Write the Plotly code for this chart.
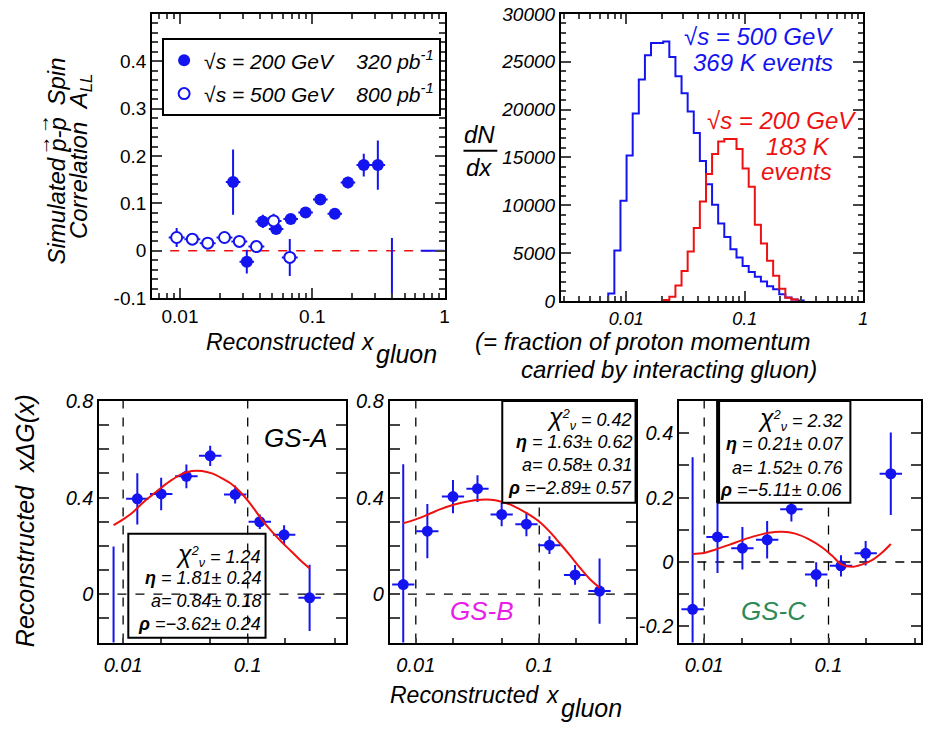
import plotly.graph_objects as go
import numpy as np

# ---------------- DATA ----------------
# Top-left: simulated A_LL vs reconstructed x_gluon
x_200 = [0.0252, 0.032, 0.0423, 0.0533, 0.0687, 0.089, 0.115, 0.148, 0.186, 0.245, 0.313, 0.40]
y_200 = [0.145, -0.023, 0.062, 0.046, 0.067, 0.081, 0.108, 0.078, 0.144, 0.181, 0.181, -0.20]
e_200 = [0.069, 0.025, 0.014, 0.010, 0.010, 0.008, 0.008, 0.008, 0.012, 0.024, 0.052, 0.227]
x_500 = [0.00944, 0.0124, 0.0162, 0.0217, 0.0281, 0.0378, 0.051, 0.0676]
y_500 = [0.028, 0.0245, 0.016, 0.028, 0.0197, 0.0088, 0.063, -0.014]
e_500 = [0.020, 0.010, 0.008, 0.008, 0.008, 0.008, 0.015, 0.039]
last_bin_x = [0.81]
last_bin_y = [0.0]
last_bin_xerr_plus = [0.19]
last_bin_xerr_minus = [0.15]

# Top-right: dN/dx histograms (log-spaced bin edges)
hist_edges = [0.00706, 0.00795, 0.00895, 0.01008, 0.01135, 0.01278, 0.01439, 0.01620, 0.01824,
              0.02054, 0.02312, 0.02603, 0.02931, 0.03300, 0.03715, 0.04183, 0.04710, 0.05302,
              0.05970, 0.06722, 0.07568, 0.08521, 0.09594, 0.1080, 0.1216, 0.1369, 0.1542,
              0.1736, 0.1954, 0.2200, 0.2477, 0.2789, 0.3141]
counts_500 = [800, 5270, 10470, 15200, 19600, 23140, 25680, 26960, 26960, 27130, 25500, 23480,
              21720, 19800, 17570, 14630, 12200, 10070, 8110, 6690, 5400, 4560, 3650, 3040,
              2530, 2030, 1550, 1220, 710, 370, 170, 70]
red_first_bin = 9
counts_200 = [100, 440, 1620, 3140, 5170, 7640, 10400, 13280, 15370, 16660, 16930, 16930,
              15880, 13850, 11930, 7970, 6010, 4220, 2640, 1280, 340, 170]
hist_yticks = [0, 5000, 10000, 15000, 20000, 25000, 30000]

# Bottom: reconstructed x*DeltaG(x)
xA = [0.00838, 0.0130, 0.0202, 0.0322, 0.050, 0.0793, 0.125, 0.196, 0.314]
yA = [-0.25, 0.395, 0.415, 0.488, 0.573, 0.413, 0.300, 0.246, -0.015]
eA = [0.447, 0.106, 0.067, 0.049, 0.042, 0.037, 0.030, 0.040, 0.137]
fitA_log10x = [-2.077, -2.0, -1.926, -1.846, -1.766, -1.686, -1.606, -1.527, -1.447, -1.367, -1.287,
               -1.207, -1.128, -1.048, -0.968, -0.888, -0.809, -0.729, -0.649, -0.569, -0.503]
fitA_y = [0.286, 0.31, 0.337, 0.377, 0.411, 0.444, 0.474, 0.498, 0.51, 0.51, 0.50,
          0.48, 0.455, 0.417, 0.367, 0.31, 0.261, 0.217, 0.177, 0.136, 0.107]

xB = [0.00791, 0.0124, 0.020, 0.0316, 0.0496, 0.0787, 0.121, 0.195, 0.308]
yB = [0.040, 0.261, 0.404, 0.437, 0.330, 0.290, 0.203, 0.080, 0.013]
eB = [0.498, 0.112, 0.069, 0.055, 0.049, 0.050, 0.037, 0.041, 0.135]
fitB_log10x = [-2.102, -2.0, -1.901, -1.794, -1.687, -1.580, -1.473, -1.393, -1.313, -1.233,
               -1.152, -1.072, -0.992, -0.912, -0.832, -0.751, -0.671, -0.591, -0.511]
fitB_y = [0.294, 0.310, 0.330, 0.353, 0.371, 0.384, 0.391, 0.391, 0.384, 0.371,
          0.350, 0.326, 0.297, 0.257, 0.210, 0.161, 0.110, 0.063, 0.027]

xC = [0.00807, 0.0128, 0.0203, 0.0321, 0.0503, 0.0796, 0.126, 0.199, 0.317]
yC = [-0.147, 0.078, 0.043, 0.069, 0.164, -0.039, -0.012, 0.027, 0.274]
eC = [0.472, 0.112, 0.066, 0.058, 0.038, 0.038, 0.033, 0.038, 0.128]
fitC_log10x = [-2.093, -2.0, -1.907, -1.8, -1.693, -1.587, -1.48, -1.373, -1.267, -1.16,
               -1.053, -0.973, -0.893, -0.813, -0.733, -0.653, -0.573, -0.499]
fitC_y = [0.025, 0.028, 0.039, 0.053, 0.068, 0.081, 0.091, 0.094, 0.088, 0.071,
          0.046, 0.020, -0.008, -0.015, -0.008, 0.005, 0.028, 0.056]

fit_texts = {
    "A": ["1.24", "1.81\u00b1 0.24", "0.84\u00b1 0.18", "\u22123.62\u00b1 0.24"],
    "B": ["0.42", "1.63\u00b1 0.62", "0.58\u00b1 0.31", "\u22122.89\u00b1 0.57"],
    "C": ["2.32", "0.21\u00b1 0.07", "1.52\u00b1 0.76", "\u22125.11\u00b1 0.06"],
}
panel_names = ["GS-A", "GS-B", "GS-C"]

# ---------------- STYLE ----------------
W, H = 926, 735
BLUE = "#1414f0"
RED = "#ee1111"
FONT = "Liberation Sans, Arial, sans-serif"
NB = "\u00a0"


def px(x):
    return x / W


def py(y):
    return 1 - y / H


def xerr(xs, hw):
    xs = np.asarray(xs)
    return list(xs * (10 ** hw - 1)), list(xs * (1 - 10 ** -hw))


fig = go.Figure()

# ---- panel 1 ----
p200, m200 = xerr(x_200, 0.055)
fig.add_trace(go.Scatter(
    x=x_200, y=y_200, mode="markers", xaxis="x", yaxis="y", legendgroup="g200",
    name="\u221as" + NB + "=" + NB + "200" + NB + "GeV" + NB * 4 + "320" + NB + "pb<sup>-1</sup>",
    marker=dict(color=BLUE, size=12),
    error_y=dict(type="data", array=e_200, width=0, thickness=2, color=BLUE),
    error_x=dict(type="data", array=p200, arrayminus=m200, symmetric=False, width=0, thickness=2, color=BLUE),
))
p500, m500 = xerr(x_500, 0.06)
fig.add_trace(go.Scatter(
    x=x_500, y=y_500, mode="markers", xaxis="x", yaxis="y", legendgroup="g500",
    name="\u221as" + NB + "=" + NB + "500" + NB + "GeV" + NB * 4 + "800" + NB + "pb<sup>-1</sup>",
    marker=dict(color="white", size=11, line=dict(color=BLUE, width=2)),
    error_y=dict(type="data", array=e_500, width=0, thickness=2, color=BLUE),
    error_x=dict(type="data", array=p500, arrayminus=m500, symmetric=False, width=0, thickness=2, color=BLUE),
))
fig.add_trace(go.Scatter(
    x=last_bin_x, y=last_bin_y, mode="markers", xaxis="x", yaxis="y", showlegend=False,
    marker=dict(color=BLUE, size=1, opacity=0),
    error_x=dict(type="data", array=last_bin_xerr_plus, arrayminus=last_bin_xerr_minus,
                 symmetric=False, width=0, thickness=2, color=BLUE),
))

# ---- panel 2 ----
fig.add_trace(go.Scatter(x=hist_edges + [hist_edges[-1]], y=[0] + counts_500 + [0],
                         mode="lines", line=dict(color=BLUE, width=2, shape="vh"),
                         xaxis="x2", yaxis="y2", showlegend=False))
red_edges = hist_edges[red_first_bin:red_first_bin + len(counts_200) + 1]
fig.add_trace(go.Scatter(x=red_edges + [red_edges[-1]], y=[0] + counts_200 + [0],
                         mode="lines", line=dict(color=RED, width=2, shape="vh"),
                         xaxis="x2", yaxis="y2", showlegend=False))

# ---- bottom panels ----
bottom = [("x3", "y3", xA, yA, eA, fitA_log10x, fitA_y),
          ("x4", "y4", xB, yB, eB, fitB_log10x, fitB_y),
          ("x5", "y5", xC, yC, eC, fitC_log10x, fitC_y)]
for xa, ya, xs, ys, es, flx, fy in bottom:
    pp, mm = xerr(xs, 0.09)
    fig.add_trace(go.Scatter(
        x=xs, y=ys, mode="markers", xaxis=xa, yaxis=ya, showlegend=False,
        marker=dict(color=BLUE, size=11),
        error_y=dict(type="data", array=es, width=0, thickness=2, color=BLUE),
        error_x=dict(type="data", array=pp, arrayminus=mm, symmetric=False, width=0, thickness=2, color=BLUE),
    ))
    fig.add_trace(go.Scatter(x=[10 ** v for v in flx], y=fy, mode="lines", xaxis=xa, yaxis=ya,
                             showlegend=False, line=dict(color=RED, width=2, shape="spline")))

# ---------------- AXES ----------------
axline = dict(showline=True, linecolor="black", linewidth=2, showgrid=False, zeroline=False)


def logminor(lo_dec, hi_dec):
    vals = []
    for d in range(lo_dec, hi_dec):
        for k in range(2, 10):
            vals.append(k * 10.0 ** d)
    return vals


tick_norm = dict(family=FONT, size=19, color="black")
tick_ital = dict(family=FONT, size=18, color="black", style="italic")
tick_ital_b = dict(family=FONT, size=20, color="black", style="italic")

layout = dict(
    width=W, height=H, margin=dict(l=0, r=0, t=0, b=0),
    paper_bgcolor="white", plot_bgcolor="white",
    font=dict(family=FONT, color="black"),
    xaxis=dict(domain=[px(153), px(447)], anchor="y", type="log", range=[-2.21, 0],
               tickvals=[0.01, 0.1, 1], ticktext=["0.01", "0.1", "1"], ticks="inside", ticklen=10,
               tickwidth=1.5, mirror="allticks", tickfont=tick_norm,
               minor=dict(tickvals=logminor(-3, 0), ticks="inside", ticklen=5, tickwidth=1.5),
               **axline),
    yaxis=dict(domain=[py(296), py(3)], anchor="x", range=[-0.1, 0.5],
               tickvals=[-0.1, 0, 0.1, 0.2, 0.3, 0.4], ticktext=["-0.1", "0", "0.1", "0.2", "0.3", "0.4"],
               ticks="inside", ticklen=10, tickwidth=1.5, mirror="allticks", tickfont=tick_norm,
               minor=dict(dtick=0.02, ticks="inside", ticklen=6, tickwidth=1.5), **axline),
    xaxis2=dict(domain=[px(564), px(868)], anchor="y2", type="log", range=[-2.55, 0],
                tickvals=[0.01, 0.1, 1], ticktext=["0.01", "0.1", "1"], ticks="inside", ticklen=10,
                tickwidth=1.5, mirror="allticks", tickfont=tick_ital,
                minor=dict(tickvals=logminor(-3, 0), ticks="inside", ticklen=5, tickwidth=1.5),
                **axline),
    yaxis2=dict(domain=[py(299), py(3)], anchor="x2", range=[0, 30000],
                tickvals=hist_yticks, ticktext=[str(v) for v in hist_yticks],
                ticks="inside", ticklen=10, tickwidth=1.5, mirror="allticks",
                tickfont=dict(family=FONT, size=19, color="black", style="italic"),
                minor=dict(dtick=1000, ticks="inside", ticklen=5, tickwidth=1.5), **axline),
    legend=dict(x=px(163), y=py(28), xanchor="left", yanchor="top", bordercolor="black",
                borderwidth=2, bgcolor="white", font=dict(family=FONT, size=21, style="italic"),
                tracegroupgap=3),
    showlegend=True,
)

bx_dom = {"3": [100, 348], "4": [392, 639], "5": [683, 926]}
bx_rng = {"3": [-2.19, -0.21], "4": [-2.21, -0.22], "5": [-2.2, -0.256]}
by_rng = {"3": [-0.2, 0.8], "4": [-0.2, 0.8], "5": [-0.25, 0.5]}
by_ticks = {"3": [0, 0.4, 0.8], "4": [0, 0.4, 0.8], "5": [-0.2, 0, 0.2, 0.4]}
by_text = {"3": ["0", "0.4", "0.8"], "4": ["0", "0.4", "0.8"], "5": ["-0.2", "0", "0.2", "0.4"]}
for k in ["3", "4", "5"]:
    layout["xaxis" + k] = dict(domain=[px(bx_dom[k][0]), min(1.0, px(bx_dom[k][1]))], anchor="y" + k,
                               type="log", range=bx_rng[k],
                               tickvals=[0.01, 0.02, 0.05, 0.1, 0.2, 0.5],
                               ticktext=["0.01", "", "", "0.1", "", ""], ticks="inside", ticklen=5,
                               tickwidth=1.5, mirror=True, tickfont=tick_ital_b, ticklabelstandoff=3,
                               **axline)
    layout["yaxis" + k] = dict(domain=[py(651), py(402)], anchor="x" + k, range=by_rng[k],
                               tickvals=by_ticks[k], ticktext=by_text[k], ticks="inside", ticklen=10,
                               tickwidth=1.5, mirror="allticks", tickfont=tick_ital_b,
                               minor=dict(dtick=0.1, ticks="inside", ticklen=10, tickwidth=1.5),
                               **axline)

fig.update_layout(**layout)

# ---------------- SHAPES ----------------
shapes = []
shapes.append(dict(type="line", xref="x domain", yref="y", x0=0, x1=1, y0=0, y1=0, layer="below",
                   line=dict(color=RED, width=1.5, dash="dash")))
for k in ["3", "4", "5"]:
    shapes.append(dict(type="line", xref="x%s domain" % k, yref="y" + k, x0=0, x1=1, y0=0, y1=0,
                       layer="below", line=dict(color="black", width=1.3, dash="dash")))
    for xv in (0.01, 0.1):
        shapes.append(dict(type="line", xref="x" + k, yref="y%s domain" % k, x0=xv, x1=xv, y0=0, y1=1,
                           layer="below", line=dict(color="black", width=1.3, dash="dash")))
# fit result boxes
shapes.append(dict(type="rect", xref="paper", yref="paper", x0=px(129), x1=px(267), y0=py(646), y1=py(539),
                   line=dict(color="black", width=2)))
shapes.append(dict(type="rect", xref="paper", yref="paper", x0=px(505), x1=px(639), y0=py(507), y1=py(402),
                   line=dict(color="black", width=2), fillcolor="white"))
shapes.append(dict(type="rect", xref="paper", yref="paper", x0=px(722), x1=px(855), y0=py(507), y1=py(402),
                   line=dict(color="black", width=2), fillcolor="white"))
shapes.append(dict(type="line", xref="paper", yref="paper", x0=px(722), x1=px(722), y0=py(507), y1=py(402),
                   line=dict(color="black", width=4)))
# dN/dx fraction bar
shapes.append(dict(type="line", xref="paper", yref="paper", x0=px(466), x1=px(500), y0=py(144), y1=py(144),
                   line=dict(color="black", width=2)))
fig.update_layout(shapes=shapes)

# ---------------- ANNOTATIONS ----------------
ann = []


def text(x, y, s, size=18, color="black", xanchor="center", italic=True, angle=0):
    ann.append(dict(x=px(x), y=py(y), xref="paper", yref="paper", text=s, showarrow=False,
                    xanchor=xanchor, yanchor="middle", textangle=angle,
                    font=dict(family=FONT, size=size, color=color, style="italic" if italic else "normal")))


# panel 1 y title (rotated)
text(57, 206, "Simulated", size=24, angle=-90)
text(57, 128, "p-p", size=24, angle=-90)
text(57, 73, "Spin", size=24, angle=-90)
text(43, 139, "\u2192", size=20, angle=-90, italic=False)
text(43, 117, "\u2192", size=20, angle=-90, italic=False)
text(81, 150, "Correlation" + NB * 2 + "A<sub>LL</sub>", size=24, angle=-90)

# top x title
text(205, 341, "Reconstructed", size=23, xanchor="left")
text(361, 341, "x", size=23, xanchor="left")
text(376, 354, "gluon", size=25, xanchor="left")
text(816, 341, "(= fraction of proton momentum", size=24, xanchor="right")
text(823, 370, "carried by interacting gluon)", size=24, xanchor="right")

# histogram labels
text(482, 127, "dN", size=24)
text(482, 161, "dx", size=24)
text(763, 26, "\u221as = 500 GeV", size=24, color=BLUE)
text(767, 53, "369 K events", size=24, color=BLUE)
text(786, 113, "\u221as = 200 GeV", size=24, color=RED)
text(802, 140, "183 K", size=24, color=RED)
text(801, 165, "events", size=24, color=RED)

# fit boxes
box_cfg = {"A": (264, [561, 584, 608, 632]), "B": (637, [420, 444, 468, 492]), "C": (850, [421, 446, 471, 494])}
for key, (xr, ys) in box_cfg.items():
    t = fit_texts[key]
    text(xr, ys[0], '<span style="font-size:25px">\u03c7</span><sup>2</sup><sub>\u03bd</sub> = ' + t[0],
         size=18, xanchor="right")
    text(xr, ys[1], "<b>\u03b7</b> = " + t[1], size=18, xanchor="right")
    text(xr, ys[2], "a= " + t[2], size=18, xanchor="right")
    text(xr, ys[3], "<b>\u03c1</b> =" + t[3], size=18, xanchor="right")

text(298, 440, panel_names[0], size=26, color="black")
text(485, 618, panel_names[1], size=26, color="#e81ee8")
text(778, 618, panel_names[2], size=26, color="#2e8b57")

# bottom titles
text(25, 525, "Reconstructed" + NB * 2 + "x\u0394G(x)", size=25, angle=-90)
text(390, 705, "Reconstructed", size=23, xanchor="left")
text(547, 705, "x", size=23, xanchor="left")
text(562, 718, "gluon", size=25, xanchor="left")

fig.update_layout(annotations=ann)

fig.write_html("out.html")
